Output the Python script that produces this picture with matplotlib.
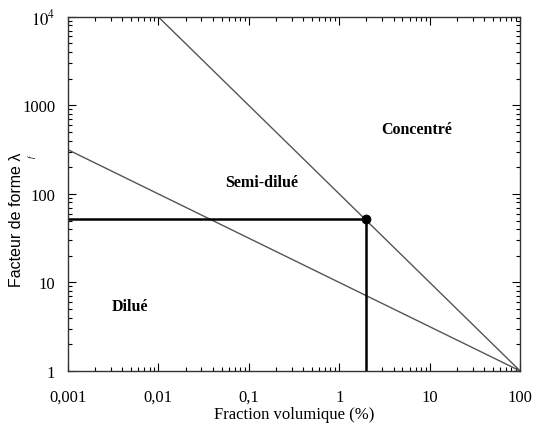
import matplotlib
matplotlib.use("Agg")
import matplotlib.pyplot as plt
from matplotlib.ticker import FixedLocator, LogLocator, NullFormatter

plt.rcParams['font.family'] = ['Liberation Serif', 'DejaVu Serif']
plt.rcParams['mathtext.fontset'] = 'stix'

# Frontier lines (fraction volumique %, facteur de forme)
semi_conc_x = [0.01, 100]
semi_conc_y = [1e4, 1]
dil_semi_x = [0.001, 100]
dil_semi_y = [316, 1]

# Operating point
point_x = 2
point_y = 52

# Region labels
regions = ["Concentré", "Semi-dilué", "Dilué"]
region_x = [7.2, 0.14, 0.0049]
region_y = [540, 137, 5.4]

xticks = [0.001, 0.01, 0.1, 1, 10, 100]
xtick_labels = ["0,001", "0,01", "0,1", "1", "10", "100"]
yticks = [1, 10, 100, 1000, 1e4]
ytick_labels = ["1", "10", "100", "1000", "$10^4$"]

fig = plt.figure(figsize=(5.34, 4.35), dpi=100)
ax = fig.add_axes([0.127, 0.145, 0.847, 0.814])

ax.plot(semi_conc_x, semi_conc_y, color='#555555', lw=1.0)
ax.plot(dil_semi_x, dil_semi_y, color='#555555', lw=1.0)
ax.plot([xticks[0], point_x], [point_y, point_y], color='black', lw=1.8)
ax.plot([point_x, point_x], [yticks[0], point_y], color='black', lw=1.8)
ax.plot(point_x, point_y, 'o', color='black', ms=6)

for name, x, y in zip(regions, region_x, region_y):
    ax.text(x, y, name, ha='center', va='center', fontsize=11.5, fontweight='bold')

ax.set_xscale('log')
ax.set_yscale('log')
ax.set_xlim(0.001, 100)
ax.set_ylim(1, 1e4)
ax.xaxis.set_major_locator(FixedLocator(xticks))
ax.set_xticklabels(xtick_labels)
ax.yaxis.set_major_locator(FixedLocator(yticks))
ax.set_yticklabels(ytick_labels)
ax.xaxis.set_minor_locator(LogLocator(base=10, subs=range(2, 10)))
ax.yaxis.set_minor_locator(LogLocator(base=10, subs=range(2, 10)))
ax.xaxis.set_minor_formatter(NullFormatter())
ax.yaxis.set_minor_formatter(NullFormatter())

ax.tick_params(which='both', direction='in', top=True, right=True, labelsize=12)
ax.tick_params(axis='x', which='major', length=6, width=0.8, pad=13)
ax.tick_params(axis='y', which='major', length=6, width=0.8, pad=9)
ax.tick_params(which='minor', length=3, width=0.8)
for s in ax.spines.values():
    s.set_linewidth(1.0)
    s.set_color('#333333')

ax.set_xlabel("Fraction volumique (%)", fontsize=12)
ax.xaxis.set_label_coords(0.5, -0.10)
ax.set_ylabel("Facteur de forme λ", fontsize=11.5, family=['Liberation Sans', 'DejaVu Sans'])
ax.yaxis.set_label_coords(-0.097, 0.43)
fig.text(32 / 534, 1 - 157 / 435, "f", rotation=90, fontsize=6,
         ha='center', va='center', style='italic')

fig.savefig("out.png", dpi=100)
